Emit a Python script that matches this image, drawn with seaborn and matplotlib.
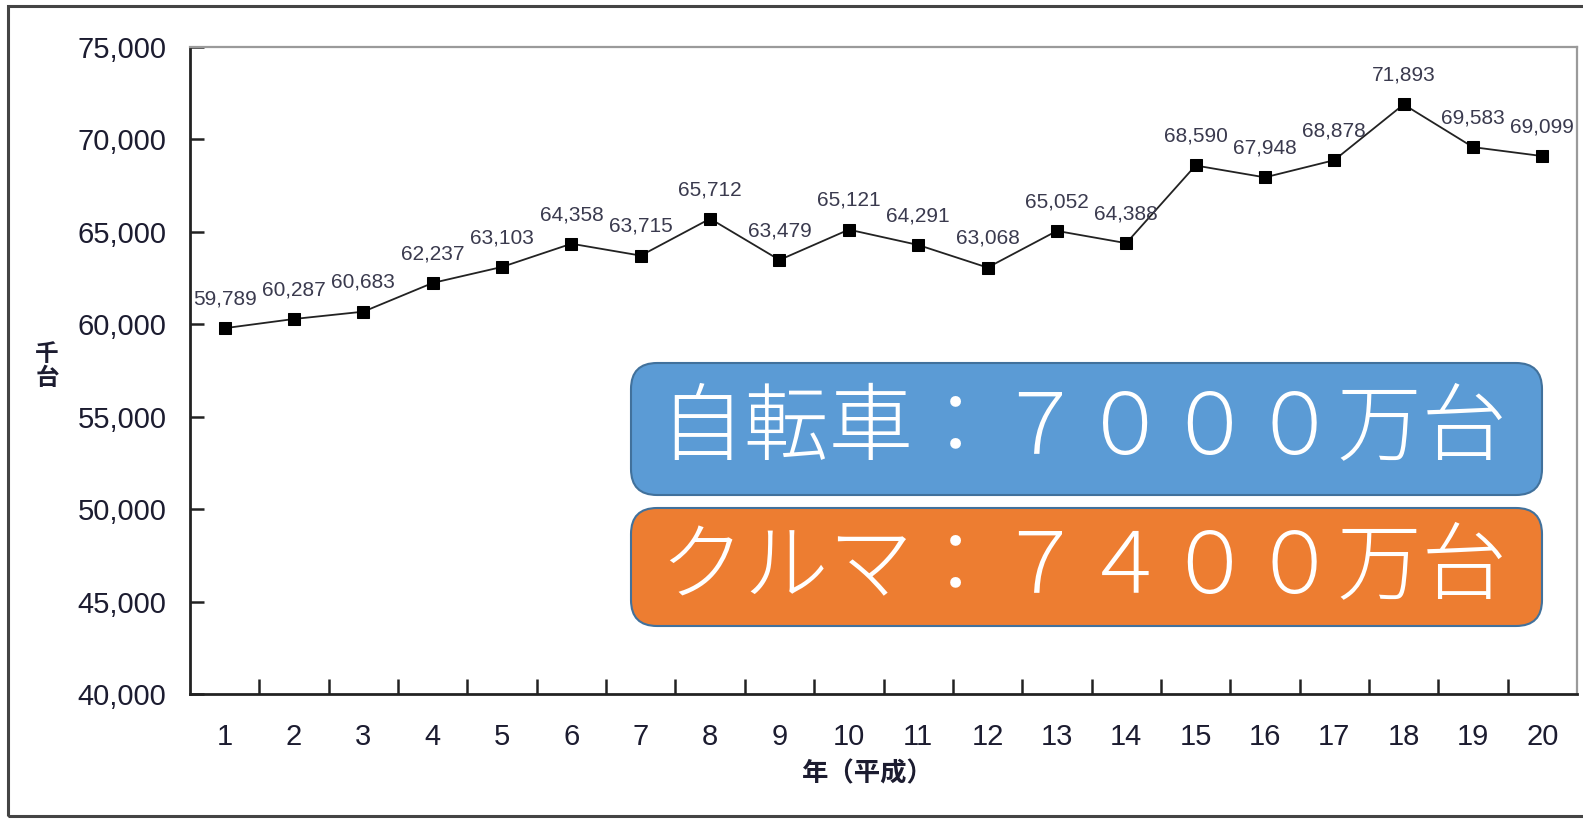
import matplotlib
matplotlib.use("Agg")
import matplotlib.pyplot as plt
import seaborn as sns
import pandas as pd
from matplotlib.patches import FancyBboxPatch, Rectangle

years = list(range(1, 21))
values = [59789, 60287, 60683, 62237, 63103, 64358, 63715, 65712, 63479, 65121,
          64291, 63068, 65052, 64388, 68590, 67948, 68878, 71893, 69583, 69099]
yticks = [40000, 45000, 50000, 55000, 60000, 65000, 70000, 75000]
xlabel = "年（平成）"
ylabel = "千台"
box_texts = ["自転車：７０００万台", "クルマ：７４００万台"]
box_colors = ["#5B9BD5", "#ED7D31"]

sns.set_theme(style="white")
plt.rcParams["font.family"] = ["Liberation Sans", "Noto Sans CJK JP", "DejaVu Sans"]
CJK = ["Noto Sans CJK JP", "DejaVu Sans"]

W, H = 1583, 819
fig = plt.figure(figsize=(W / 100, H / 100), dpi=100)
fig.patch.set_facecolor("white")

# outer frame
fig.patches.append(Rectangle((8 / W, 1 - 816 / H), 1.2, (816 - 6) / H,
                             transform=fig.transFigure, fill=False,
                             edgecolor="#444444", linewidth=2.2))

ax = fig.add_axes([190 / W, 1 - 694 / H, (1577 - 190) / W, (694 - 47) / H])
df = pd.DataFrame({"year": years, "value": values})
sns.lineplot(data=df, x="year", y="value", ax=ax, color="#222222", linewidth=1.3,
             marker="s", markersize=9, markeredgecolor="#000000",
             markerfacecolor="#000000")

ax.set_xlim(0.5, 20.5)
ax.set_ylim(40000, 75000)
ax.set_xticks(years)
ax.set_xticklabels([str(y) for y in years])
ax.set_xticks([y + 0.5 for y in years[:-1]], minor=True)
ax.tick_params(axis="x", which="major", length=0, pad=21, labelsize=21, labelcolor="#1c1c30")
ax.tick_params(axis="x", which="minor", direction="in", length=11, width=1.8,
               color="#222222", bottom=True)
ax.set_yticks(yticks)
ax.set_yticklabels([f"{v:,}" for v in yticks])
ax.tick_params(axis="y", direction="in", length=10, width=1.8, color="#222222",
               pad=17, labelsize=21, labelcolor="#1c1c30", left=True)
ax.set_xlabel("")
ax.set_ylabel("")
for s in ["left", "bottom"]:
    ax.spines[s].set_color("#222222")
    ax.spines[s].set_linewidth(2.0)
for s in ["top", "right"]:
    ax.spines[s].set_color("#9a9a9a")
    ax.spines[s].set_linewidth(1.6)
ax.grid(False)

for x, v in zip(years, values):
    ax.annotate(f"{v:,}", (x, v), xytext=(0, 21), textcoords="offset points",
                ha="center", va="center", fontsize=15, color="#3a3a4e")

fig.text(868 / W, 1 - 774 / H, xlabel, ha="center", va="center", fontsize=19,
         fontweight="bold", color="#1c1c30", family=CJK)
fig.text(47 / W, 1 - 366 / H, "\n".join(ylabel), ha="center", va="center", fontsize=17,
         fontweight="bold", color="#1c1c30", linespacing=1.05, family=CJK)

# boxes
boxes = [(631, 363, 1542, 495), (631, 508, 1542, 626)]
for (x0, y0, x1, y1), txt, col in zip(boxes, box_texts, box_colors):
    r = 26
    p = FancyBboxPatch(((x0 + r) / W, 1 - (y1 - r) / H), (x1 - x0 - 2 * r) / W,
                       (y1 - y0 - 2 * r) / H,
                       boxstyle=f"round,pad={r / W}",
                       transform=fig.transFigure, facecolor=col,
                       edgecolor="#41719C", linewidth=1.5, mutation_aspect=W / H)
    fig.patches.append(p)
    fig.text((x0 + x1) / 2 / W - 4 / W, 1 - ((y0 + y1) / 2 + 2) / H, txt, ha="center",
             va="center", fontsize=61, color="white", fontweight="light",
             family=CJK)

fig.savefig("out.png", dpi=100)
